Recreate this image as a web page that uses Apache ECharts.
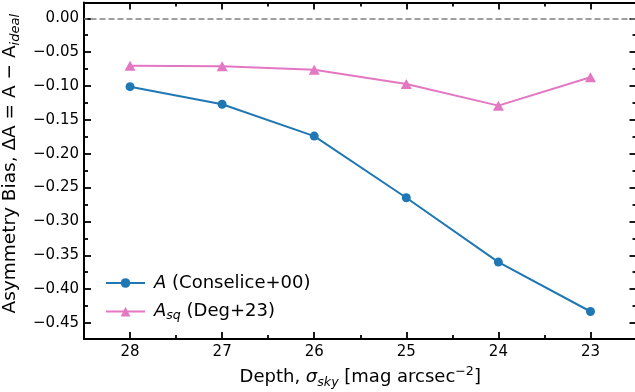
<!DOCTYPE html>
<html>
<head>
<meta charset="utf-8">
<script src="https://cdn.jsdelivr.net/npm/echarts@6/dist/echarts.min.js"></script>
<style>
  html, body { margin: 0; padding: 0; background: #fff; }
  #chart { width: 635px; height: 392px; }
</style>
</head>
<body>
<div id="chart"></div>
<script>
// Survey depth (sky brightness limit) and the measured asymmetry bias
const depth = [28, 27, 26, 25, 24, 23];
const biasConselice = [-0.101, -0.127, -0.174, -0.265, -0.360, -0.433];
const biasDeg = [-0.070, -0.071, -0.076, -0.097, -0.129, -0.087];

const xMajor = [23, 24, 25, 26, 27, 28];
const xMinor = [23.5, 24.5, 25.5, 26.5, 27.5];
const yMajor = [0, -0.05, -0.10, -0.15, -0.20, -0.25, -0.30, -0.35, -0.40, -0.45];
const yMinor = [-0.025, -0.075, -0.125, -0.175, -0.225, -0.275, -0.325, -0.375, -0.425];

const X_MIN = 22.5, X_MAX = 28.5;
const Y_MIN = -0.4736, Y_MAX = 0.0233;

const FONT = 'DejaVu Sans';
const INK = '#000';

function fmtY(v) {
  const s = Math.abs(v).toFixed(2);
  return v < -1e-9 ? '\u2212' + s : s;
}

function xAxisDef(pos, values, len, opts) {
  return Object.assign({
    type: 'value', position: pos, inverse: true, min: X_MIN, max: X_MAX,
    splitLine: { show: false },
    axisLine: { show: false, onZero: false },
    axisTick: { show: true, inside: true, length: len, customValues: values,
      lineStyle: { color: INK, width: 1.8 } },
    axisLabel: { show: false }
  }, opts || {});
}
function yAxisDef(pos, values, len, opts) {
  return Object.assign({
    type: 'value', position: pos, min: Y_MIN, max: Y_MAX,
    splitLine: { show: false },
    axisLine: { show: false, onZero: false },
    axisTick: { show: true, inside: true, length: len, customValues: values,
      lineStyle: { color: INK, width: 1.8 } },
    axisLabel: { show: false }
  }, opts || {});
}

const spine = { show: true, onZero: false, lineStyle: { color: INK, width: 2 } };

const chart = echarts.init(document.getElementById('chart'), null, { renderer: 'canvas' });

chart.setOption({
  animation: false,
  backgroundColor: '#fff',
  textStyle: { fontFamily: FONT },
  grid: { left: 84, right: -1.5, top: 2.5, bottom: 53, containLabel: false, outerBoundsMode: 'none' },
  xAxis: [
    xAxisDef('bottom', xMajor, 7, {
      axisLine: spine,
      axisLabel: { show: true, customValues: xMajor, margin: 6, fontSize: 15,
        color: INK, fontFamily: FONT, formatter: v => String(v) },
      name: '{t|Depth, }{i|σ}{sub|sky}{t| [mag arcsec}{sup|−2}{t|]}',
      nameLocation: 'middle',
      nameGap: 23,
      nameTextStyle: {
        fontFamily: FONT, fontSize: 18, color: INK,
        rich: {
          t: { fontSize: 18, fontFamily: FONT, color: INK, lineHeight: 24 },
          i: { fontSize: 18, fontFamily: FONT, fontStyle: 'italic', color: INK, lineHeight: 24 },
          sub: { fontSize: 12.6, fontFamily: FONT, fontStyle: 'italic', color: INK, verticalAlign: 'bottom', lineHeight: 14 },
          sup: { fontSize: 12.6, fontFamily: FONT, color: INK, verticalAlign: 'top', lineHeight: 14 }
        }
      }
    }),
    xAxisDef('bottom', xMinor, 4),
    xAxisDef('top', xMajor, 7, { axisLine: spine }),
    xAxisDef('top', xMinor, 4)
  ],
  yAxis: [
    yAxisDef('left', yMajor, 7, {
      axisLine: spine,
      axisLabel: { show: true, customValues: yMajor, margin: 5, fontSize: 15,
        color: INK, fontFamily: FONT, formatter: fmtY },
      name: '{t|Asymmetry Bias, ΔA = A − A}{sub|ideal}',
      nameLocation: 'middle',
      nameGap: 56,
      nameTextStyle: {
        fontFamily: FONT, fontSize: 18, color: INK,
        padding: [0, 0, 0, 14],
        rich: {
          t: { fontSize: 18.5, fontFamily: FONT, color: INK, lineHeight: 24 },
          sub: { fontSize: 13, fontFamily: FONT, fontStyle: 'italic', color: INK, verticalAlign: 'bottom', lineHeight: 14 }
        }
      }
    }),
    yAxisDef('left', yMinor, 4),
    yAxisDef('right', yMajor, 7, { axisLine: spine }),
    yAxisDef('right', yMinor, 4)
  ],
  legend: {
    orient: 'vertical',
    left: 100,
    top: 269,
    itemWidth: 39,
    itemHeight: 12,
    itemGap: 10.6,
    textStyle: {
      fontFamily: FONT, fontSize: 18, color: INK, padding: [0, 0, 0, 4],
      rich: {
        i: { fontSize: 18, fontFamily: FONT, fontStyle: 'italic', color: INK, lineHeight: 22 },
        t: { fontSize: 18, fontFamily: FONT, color: INK, lineHeight: 22 },
        sub: { fontSize: 12.6, fontFamily: FONT, fontStyle: 'italic', color: INK, verticalAlign: 'bottom', lineHeight: 13 }
      }
    },
    formatter: function (name) {
      if (name === 'A (Conselice+00)') return '{i|A}{t| (Conselice+00)}';
      return '{i|A}{sub|sq}{t| (Deg+23)}';
    },
    data: ['A (Conselice+00)', 'A_sq (Deg+23)']
  },
  series: [
    {
      name: 'A (Conselice+00)',
      type: 'line',
      xAxisIndex: 0, yAxisIndex: 0,
      data: depth.map((d, i) => [d, biasConselice[i]]),
      symbol: 'circle',
      symbolSize: 9,
      color: '#1f77b4',
      lineStyle: { width: 2, color: '#1f77b4' },
      itemStyle: { color: '#1f77b4' },
      z: 3,
      markLine: {
        silent: true,
        symbol: 'none',
        label: { show: false },
        lineStyle: { color: '#808080', type: [6, 3], width: 1.6 },
        data: [{ yAxis: 0 }]
      }
    },
    {
      name: 'A_sq (Deg+23)',
      type: 'line',
      xAxisIndex: 0, yAxisIndex: 0,
      data: depth.map((d, i) => [d, biasDeg[i]]),
      symbol: 'triangle',
      symbolSize: [11, 10],
      color: '#e377c2',
      lineStyle: { width: 2, color: '#e377c2' },
      itemStyle: { color: '#e377c2' },
      z: 2
    }
  ]
});
</script>
</body>
</html>
